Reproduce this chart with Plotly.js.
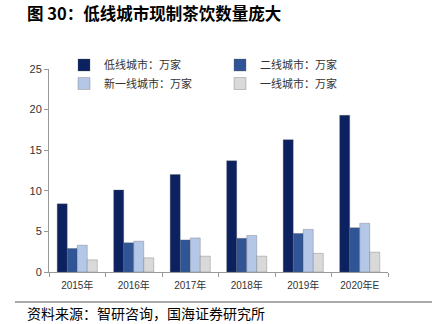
<!DOCTYPE html>
<html><head><meta charset="utf-8">
<script src="https://cdn.plot.ly/plotly-3.0.1.min.js"></script>
<style>body{margin:0;padding:0;background:#fff}#chart{width:432px;height:324px}</style>
</head><body><div id="chart"></div>
<script>
var categories = ["2015年","2016年","2017年","2018年","2019年","2020年E"];
var seriesNames = ["低线城市：万家","二线城市：万家","新一线城市：万家","一线城市：万家"];
var lowTier = [8.4, 10.1, 12.0, 13.7, 16.3, 19.3];
var secondTier = [2.9, 3.6, 3.95, 4.15, 4.75, 5.45];
var newFirstTier = [3.3, 3.8, 4.2, 4.5, 5.25, 6.0];
var firstTier = [1.5, 1.75, 1.95, 1.95, 2.3, 2.45];
var yTicks = [0,5,10,15,20,25];

var colors = ["#0c2160","#2f5597","#b4c7e7","#d9d9d9"];
var values = [lowTier, secondTier, newFirstTier, firstTier];
var legendIds = ["legend","legend","legend2","legend2"];
var font = "'Noto Sans CJK SC', 'Liberation Sans', sans-serif";
var traces = values.map(function(v,i){
  return {type:"bar", x:categories, y:v, name:seriesNames[i], legend:legendIds[i],
    marker:{color:colors[i], line:{color:"rgba(90,90,90,0.6)", width:0.5}}};
});
var L=49, R=388, T=69, B=272;
function px(x){return (x-L)/(R-L);}
function py(y){return (B-y)/(B-T);}
function legendAt(yc){
  return {orientation:"h", x:px(64), y:py(yc), xanchor:"left", yanchor:"middle",
    entrywidth:111, traceorder:"normal", font:{family:font, size:11, color:"#333"},
    bgcolor:"rgba(0,0,0,0)", itemwidth:30, borderwidth:0};
}
var layout = {
  width:432, height:324,
  margin:{l:L, r:432-R, t:T, b:324-B, pad:0},
  paper_bgcolor:"#fff", plot_bgcolor:"#fff",
  barmode:"group", bargap:0.29, bargroupgap:0,
  font:{family:font, size:10, color:"#333"},
  showlegend:true,
  legend:legendAt(65),
  legend2:legendAt(83.5),
  xaxis:{type:"category", showline:true, linecolor:"#999", linewidth:1,
    ticks:"outside", tickson:"boundaries", ticklen:4, tickcolor:"#999",
    ticklabelstandoff:4,
    tickfont:{family:"'Liberation Sans', 'Noto Sans CJK SC', sans-serif", size:10, color:"#333"},
    showgrid:false, zeroline:false, fixedrange:true},
  yaxis:{range:[0,25], tickvals:yTicks, ticktext:yTicks.map(String), showline:true, linecolor:"#999", linewidth:1,
    ticks:"outside", ticklen:4, tickcolor:"#999", showgrid:false, zeroline:false,
    tickfont:{family:"'Liberation Sans', sans-serif", size:11, color:"#333"}},
  annotations:[
    {text:"<b>图 30：低线城市现制茶饮数量庞大</b>", xref:"paper", yref:"paper",
     x:px(25), y:py(13), xanchor:"left", yanchor:"middle", showarrow:false,
     font:{family:font, size:16.5, color:"#000"}},
    {text:"资料来源：智研咨询，国海证券研究所", xref:"paper", yref:"paper",
     x:px(25), y:py(313), xanchor:"left", yanchor:"middle", showarrow:false,
     font:{family:font, size:14, color:"#000"}}
  ],
  shapes:[
    {type:"line", xref:"paper", yref:"paper", x0:px(15), x1:px(432), y0:py(302), y1:py(302),
     line:{color:"#555", width:1}}
  ]
};
Plotly.newPlot("chart", traces, layout, {staticPlot:true, displayModeBar:false});
</script></body></html>
